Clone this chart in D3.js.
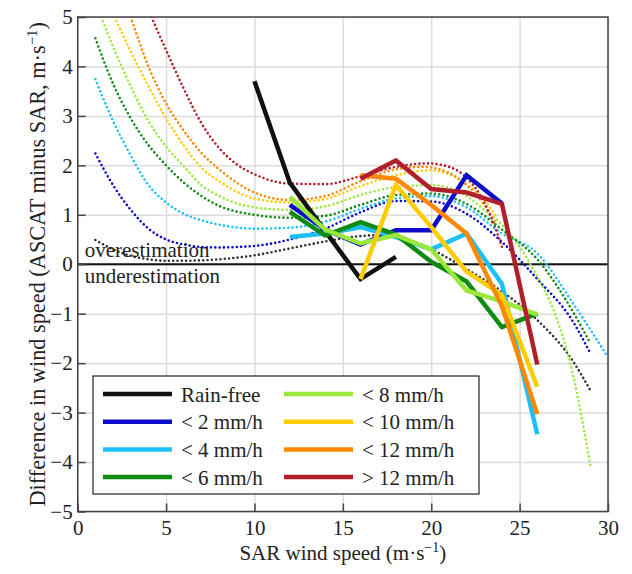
<!DOCTYPE html>
<html>
<head>
<meta charset="utf-8">
<script src="https://cdn.jsdelivr.net/npm/d3@7"></script>
<style>
  html, body { margin: 0; padding: 0; background: #fff; }
  svg text { font-family: 'Liberation Serif', 'Times New Roman', serif; fill: #222; }
</style>
</head>
<body>
<svg id="chart" width="632" height="574"></svg>
<script>
// observed mean differences, one value per SAR wind speed bin
const windSpeed = [10, 12, 14, 16, 18, 20, 22, 24, 26];
const rainFree = [3.7, 1.65, 0.67, -0.3, 0.15, null, null, null, null];
const rain2 = [null, 1.2, 0.7, 0.4, 0.69, 0.69, 1.8, 1.23, null];
const rain4 = [null, 0.55, 0.62, 0.75, 0.55, 0.3, 0.62, -0.4, -3.44];
const rain6 = [null, 1.06, 0.58, 0.85, 0.6, 0.05, -0.35, -1.27, -1.0];
const rain8 = [null, 1.36, 0.7, 0.42, 0.59, 0.3, -0.53, -0.75, -1.02];
const rain10 = [null, null, null, -0.3, 1.6, 0.75, -0.15, -0.62, -2.48];
const rain12 = [null, null, null, 1.8, 1.73, 1.2, 0.62, -0.85, -3.03];
const rainOver12 = [null, null, null, 1.73, 2.1, 1.52, 1.45, 1.22, -2.03];

// fitted curves (dotted)
const fitRainFreeX = [1, 2, 3, 4, 5, 6, 7, 8, 10, 12, 14, 16, 17, 18, 20, 22, 24, 26, 28, 29];
const fitRainFreeY = [0.49, 0.3, 0.17, 0.1, 0.07, 0.07, 0.08, 0.1, 0.18, 0.32, 0.46, 0.57, 0.59, 0.55, 0.3, -0.1, -0.55, -1.13, -1.95, -2.55];
const fit2X = [1, 2, 3, 4, 5, 6, 7, 8, 10, 12, 14, 16, 18, 20, 22, 24, 26, 28, 29];
const fit2Y = [2.24, 1.6, 1.1, 0.72, 0.5, 0.4, 0.35, 0.34, 0.37, 0.5, 0.72, 1.05, 1.28, 1.27, 1.02, 0.45, -0.3, -1.15, -1.8];
const fit4X = [1, 2, 3, 4, 5, 6, 7, 8, 10, 12, 14, 16, 18, 20, 22, 24, 26, 28, 30];
const fit4Y = [3.74, 2.9, 2.2, 1.6, 1.25, 1.02, 0.89, 0.8, 0.72, 0.74, 0.86, 1.12, 1.33, 1.38, 1.15, 0.62, 0.22, -0.78, -1.88];
const fit6X = [1, 2, 3, 4, 5, 6, 7, 8, 10, 12, 14, 16, 18, 20, 22, 24, 26, 28, 29];
const fit6Y = [4.57, 3.65, 2.95, 2.41, 2.0, 1.65, 1.38, 1.18, 1.0, 0.94, 0.98, 1.2, 1.4, 1.43, 1.22, 0.7, 0.1, -0.95, -1.6];
const fit8X = [1.34, 2, 3, 4, 5, 6, 7, 8, 10, 12, 14, 16, 18, 20, 22, 23, 24, 25, 26, 27, 28, 29];
const fit8Y = [5.0, 4.4, 3.6, 2.9, 2.38, 1.98, 1.6, 1.38, 1.15, 1.1, 1.17, 1.4, 1.56, 1.6, 1.38, 1.1, 0.8, 0.35, -0.25, -1.0, -2.2, -4.07];
const fit10X = [2.09, 3, 4, 5, 6, 7, 8, 10, 12, 14, 16, 18, 20, 21, 22, 23, 23.7];
const fit10Y = [5, 4.3, 3.6, 2.95, 2.4, 1.95, 1.68, 1.33, 1.25, 1.32, 1.58, 1.8, 1.9, 1.82, 1.62, 1.3, 0.95];
const fit12X = [3.0, 4, 5, 6, 7, 8, 10, 12, 14, 16, 18, 19.5, 21, 22, 23, 23.7];
const fit12Y = [5, 4.0, 3.25, 2.7, 2.25, 1.92, 1.45, 1.3, 1.38, 1.68, 1.92, 1.97, 1.85, 1.6, 1.2, 0.8];
const fitOver12X = [4.17, 5, 6, 7, 8, 9, 10, 12, 14, 16, 18, 19.8, 21, 22, 23, 23.5, 24];
const fitOver12Y = [5, 4.33, 3.55, 2.85, 2.35, 2.02, 1.82, 1.63, 1.62, 1.78, 1.97, 2.04, 1.97, 1.75, 1.25, 0.85, 0.35];

const legendLabels = ['Rain-free', '< 2 mm/h', '< 4 mm/h', '< 6 mm/h', '< 8 mm/h', '< 10 mm/h', '< 12 mm/h', '> 12 mm/h'];
const colors = ['#111111', '#0c0ccc', '#1cc0f6', '#0f8a12', '#9be83c', '#ffcc00', '#ff8800', '#b0202a'];
const xTicks = [0, 5, 10, 15, 20, 25, 30];
const yTicks = [-5, -4, -3, -2, -1, 0, 1, 2, 3, 4, 5];

const serif = "'Liberation Serif', 'Times New Roman', serif";

function drawChart() {
    const svg = d3.select('#chart');
    const margin = { top: 17, right: 24, bottom: 62.5, left: 77.7 };
    const width = 632 - margin.left - margin.right;
    const height = 574 - margin.top - margin.bottom;

    const g = svg.append('g').attr('transform', `translate(${margin.left},${margin.top})`);

    const x = d3.scaleLinear().domain([0, 30]).range([0, width]);
    const y = d3.scaleLinear().domain([-5, 5]).range([height, 0]);

    // grid
    g.append('g')
        .attr('transform', `translate(0,${height})`)
        .call(d3.axisBottom(x).tickValues(xTicks).tickSize(-height).tickFormat(''))
        .call(a => a.select('.domain').remove())
        .selectAll('line').attr('stroke', '#dcdcdc').attr('stroke-width', 1.5);
    g.append('g')
        .call(d3.axisLeft(y).tickValues(yTicks).tickSize(-width).tickFormat(''))
        .call(a => a.select('.domain').remove())
        .selectAll('line').attr('stroke', '#dcdcdc').attr('stroke-width', 1.5);

    svg.append('defs').append('clipPath').attr('id', 'plotClip')
        .append('rect').attr('width', width).attr('height', height);

    const plot = g.append('g').attr('clip-path', 'url(#plotClip)');

    // zero line
    plot.append('line')
        .attr('x1', 0).attr('x2', width)
        .attr('y1', y(0)).attr('y2', y(0))
        .attr('stroke', '#111').attr('stroke-width', 1.8);

    const fitLine = d3.line()
        .x(d => x(d[0]))
        .y(d => y(d[1]))
        .curve(d3.curveMonotoneX);

    const fits = [
        [fitRainFreeX, fitRainFreeY], [fit2X, fit2Y], [fit4X, fit4Y], [fit6X, fit6Y],
        [fit8X, fit8Y], [fit10X, fit10Y], [fit12X, fit12Y], [fitOver12X, fitOver12Y]
    ];

    fits.forEach((f, i) => {
        plot.append('path')
            .datum(d3.zip(f[0], f[1]))
            .attr('d', fitLine)
            .attr('fill', 'none')
            .attr('stroke', i === 0 ? '#333' : colors[i])
            .attr('stroke-width', 2.6)
            .attr('stroke-linecap', 'round')
            .attr('stroke-dasharray', '0 4.3');
    });

    const obsLine = d3.line()
        .defined(d => d[1] !== null)
        .x(d => x(d[0]))
        .y(d => y(d[1]));

    const observed = [rainFree, rain2, rain4, rain6, rain8, rain10, rain12, rainOver12];

    observed.forEach((s, i) => {
        plot.append('path')
            .datum(d3.zip(windSpeed, s))
            .attr('d', obsLine)
            .attr('fill', 'none')
            .attr('stroke', colors[i])
            .attr('stroke-width', 4.5)
            .attr('stroke-linejoin', 'miter');
    });

    // over / under labels
    g.append('text')
        .attr('x', 7).attr('y', y(0) - 7)
        .style('font-size', '21px')
        .text('overestimation');
    g.append('text')
        .attr('x', 7).attr('y', y(0) + 19)
        .style('font-size', '21px')
        .text('underestimation');

    // frame
    g.append('rect')
        .attr('width', width).attr('height', height)
        .attr('fill', 'none').attr('stroke', '#444').attr('stroke-width', 1.5);

    // axes
    g.append('g')
        .attr('transform', `translate(0,${height})`)
        .call(d3.axisBottom(x).tickValues(xTicks).tickSize(-8).tickPadding(9))
        .attr('font-family', serif)
        .attr('font-size', 21)
        .call(a => a.select('.domain').remove())
        .call(a => a.selectAll('line').attr('stroke', '#444').attr('stroke-width', 1.5))
        .selectAll('text')
        .style('font-size', '21px')
        .attr('fill', '#222');

    g.append('g')
        .call(d3.axisLeft(y).tickValues(yTicks).tickSize(-8).tickPadding(5))
        .attr('font-family', serif)
        .attr('font-size', 21)
        .call(a => a.select('.domain').remove())
        .call(a => a.selectAll('line').attr('stroke', '#444').attr('stroke-width', 1.5))
        .selectAll('text')
        .style('font-size', '21px')
        .attr('fill', '#222');

    // axis labels
    const xLabel = svg.append('text')
        .attr('x', margin.left + width / 2)
        .attr('y', 560)
        .style('text-anchor', 'middle')
        .style('font-size', '21px');
    xLabel.append('tspan').text('SAR wind speed (m·s');
    xLabel.append('tspan').attr('dy', -8).style('font-size', '14px').text('−1');
    xLabel.append('tspan').attr('dy', 8).text(')');

    const yLabel = svg.append('text')
        .attr('transform', `translate(45,${margin.top + height / 2}) rotate(-90)`)
        .style('text-anchor', 'middle')
        .style('font-size', '22.3px');
    yLabel.append('tspan').text('Difference in wind speed (ASCAT minus SAR, m·s');
    yLabel.append('tspan').attr('dy', -8).style('font-size', '15px').text('−1');
    yLabel.append('tspan').attr('dy', 8).text(')');

    // legend
    const legend = svg.append('g').attr('transform', 'translate(93,376)');
    legend.append('rect')
        .attr('width', 386).attr('height', 118)
        .attr('fill', '#fff').attr('stroke', '#333').attr('stroke-width', 1.3);

    const item = legend.selectAll('.item')
        .data(legendLabels)
        .enter()
        .append('g')
        .attr('class', 'item')
        .attr('transform', (d, i) => `translate(${i < 4 ? 10 : 191},${18 + (i % 4) * 27.7})`);

    item.append('line')
        .attr('x1', 0).attr('x2', 69)
        .attr('stroke', (d, i) => colors[i])
        .attr('stroke-width', 4.5);

    item.append('text')
        .attr('x', 78).attr('y', 7.5)
        .style('font-size', '21px')
        .text(d => d);
}

drawChart();
</script>
</body>
</html>
